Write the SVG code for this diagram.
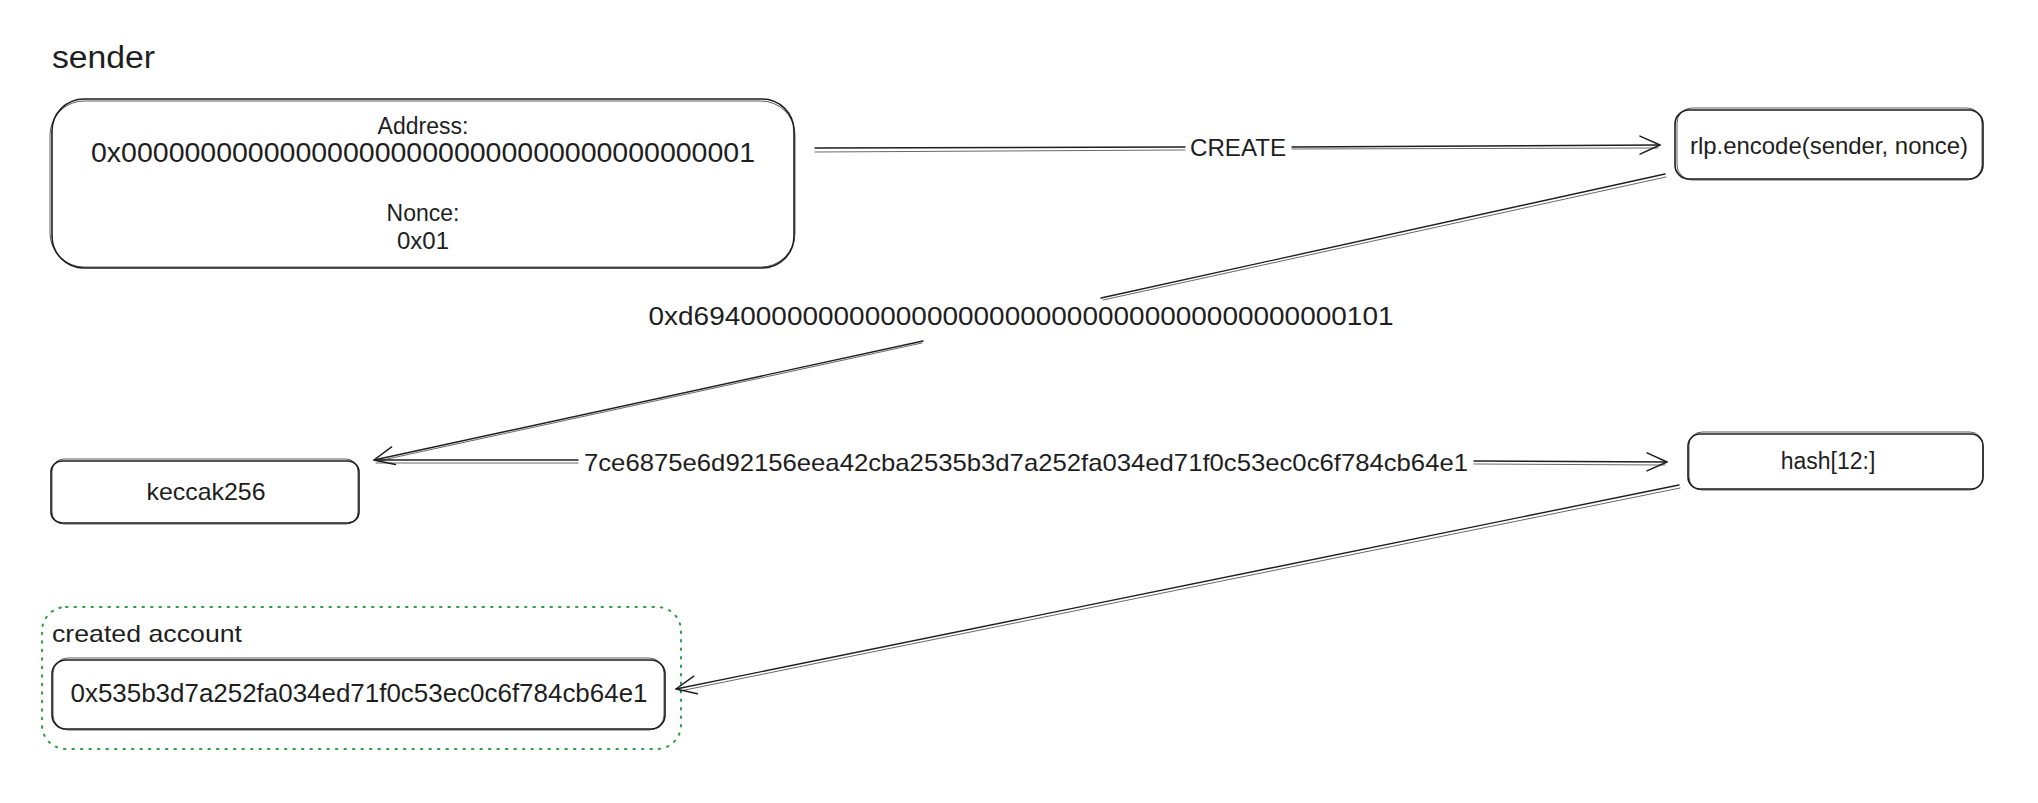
<svg xmlns="http://www.w3.org/2000/svg" width="2038" height="803" viewBox="0 0 2038 803">
<style>
.bg{fill:#ffffff}
.box{fill:none;stroke:#1e1e1e;stroke-width:1.6;stroke-linejoin:round}
.box2{fill:none;stroke:#1e1e1e;stroke-width:0.9;opacity:0.8}
.grp{fill:none;stroke:#2f9e44;stroke-width:2;stroke-dasharray:1.5 7;stroke-linecap:round}
.ln{fill:none;stroke:#1e1e1e;stroke-width:1.4;stroke-linecap:round}
.ln2{fill:none;stroke:#1e1e1e;stroke-width:0.9;opacity:0.75;stroke-linecap:round}
.t{font-family:"Liberation Sans","Noto Sans",Arial,sans-serif;fill:#1e1e1e;dominant-baseline:central}
.c{text-anchor:middle}
</style>
<defs>
<marker id="ah" viewBox="-22 -12 26 24" refX="0" refY="0" markerWidth="26" markerHeight="24" markerUnits="userSpaceOnUse" orient="auto" overflow="visible">
<path d="M -20 -9 L 0 0 L -20 9" fill="none" stroke="#1e1e1e" stroke-width="1.5" stroke-linecap="round" stroke-linejoin="round"/>
</marker>
</defs>
<rect class="bg" x="0" y="0" width="2038" height="803"/>

<g id="title-sender">
<text class="t" x="52" y="57" font-size="31" textLength="103" lengthAdjust="spacingAndGlyphs">sender</text>
</g>

<g id="node-sender">
<rect class="box" x="52" y="99" width="742" height="169" rx="32" ry="32"/>
<rect class="box2" x="50" y="101" width="745" height="166" rx="34" ry="34"/>
<text class="t c" x="423" y="126" font-size="23">Address:</text>
<text class="t c" x="423" y="153" font-size="27" textLength="664" lengthAdjust="spacingAndGlyphs">0x0000000000000000000000000000000000000001</text>
<text class="t c" x="423" y="213" font-size="23">Nonce:</text>
<text class="t c" x="423" y="240" font-size="24">0x01</text>
</g>

<g id="node-rlp">
<rect class="box" x="1675" y="110" width="308" height="69" rx="14" ry="14"/>
<rect class="box2" x="1677" y="108" width="305" height="72" rx="15" ry="15"/>
<text class="t c" x="1829" y="145" font-size="24" textLength="278" lengthAdjust="spacingAndGlyphs">rlp.encode(sender, nonce)</text>
</g>

<g id="node-keccak">
<rect class="box" x="51" y="461" width="308" height="62" rx="11" ry="11"/>
<rect class="box2" x="52" y="459" width="306" height="65" rx="12" ry="12"/>
<text class="t c" x="206" y="491" font-size="24" textLength="119" lengthAdjust="spacingAndGlyphs">keccak256</text>
</g>

<g id="node-hash">
<rect class="box" x="1688" y="434" width="295" height="55" rx="12" ry="12"/>
<rect class="box2" x="1689" y="432" width="294" height="58" rx="13" ry="13"/>
<text class="t c" x="1828" y="461" font-size="23">hash[12:]</text>
</g>

<g id="group-created">
<rect class="grp" x="42" y="607" width="639" height="142" rx="24" ry="24"/>
<text class="t" x="52" y="633" font-size="24" textLength="190" lengthAdjust="spacingAndGlyphs">created account</text>
</g>

<g id="node-created">
<rect class="box" x="52" y="660" width="613" height="69" rx="14" ry="14"/>
<rect class="box2" x="53" y="658" width="611" height="72" rx="15" ry="15"/>
<text class="t c" x="359" y="693" font-size="25" textLength="577" lengthAdjust="spacingAndGlyphs">0x535b3d7a252fa034ed71f0c53ec0c6f784cb64e1</text>
</g>

<g id="connectors">
<!-- sender -> rlp (CREATE) -->
<path class="ln" d="M 815 148 L 1185 147"/>
<path class="ln2" d="M 815 152 L 1185 150"/>
<path class="ln" d="M 1292 147 L 1660 145" marker-end="url(#ah)"/>
<path class="ln2" d="M 1292 149 L 1658 148"/>
<text class="t c" x="1238" y="147" font-size="24" textLength="96" lengthAdjust="spacingAndGlyphs">CREATE</text>

<!-- rlp -> keccak -->
<path class="ln" d="M 1665 174 L 1101 298"/>
<path class="ln2" d="M 1666 177 L 1103 300"/>
<path class="ln" d="M 923 341 L 374 460" marker-end="url(#ah)"/>
<path class="ln2" d="M 922 343 L 378 461"/>
<text class="t c" x="1021" y="316" font-size="26" textLength="745" lengthAdjust="spacingAndGlyphs">0xd694000000000000000000000000000000000000000101</text>

<!-- keccak -> hash -->
<path class="ln" d="M 376 460 L 578 460"/>
<path class="ln2" d="M 376 463 L 578 463"/>
<path class="ln" d="M 1474 461 L 1667 462" marker-end="url(#ah)"/>
<path class="ln2" d="M 1474 464 L 1665 465"/>
<text class="t c" x="1026" y="462" font-size="24" textLength="884" lengthAdjust="spacingAndGlyphs">7ce6875e6d92156eea42cba2535b3d7a252fa034ed71f0c53ec0c6f784cb64e1</text>

<!-- hash -> created -->
<path class="ln" d="M 1679 485 L 676 689" marker-end="url(#ah)"/>
<path class="ln2" d="M 1680 488 L 680 691"/>
</g>
</svg>
